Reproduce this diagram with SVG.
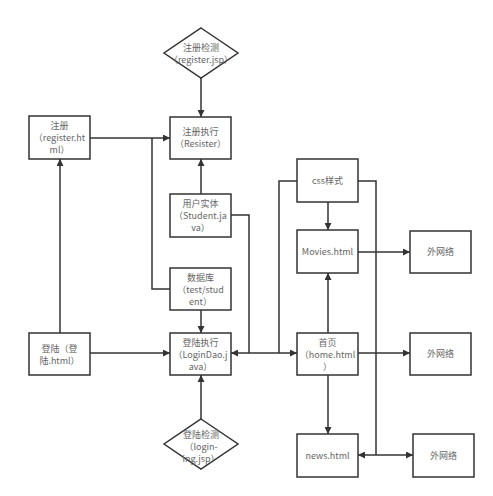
<svg xmlns="http://www.w3.org/2000/svg" width="493" height="496" viewBox="0 0 493 496">
<defs>
<marker id="ah" viewBox="0 0 10 10" refX="10" refY="5" markerWidth="7" markerHeight="7" markerUnits="userSpaceOnUse" orient="auto-start-reverse">
<path d="M0,0 L10,5 L0,10 z" fill="#333"/>
</marker>
<style>
.n{fill:#fff;stroke:#333;stroke-width:1.5}
.t{font-family:"Noto Sans CJK SC","Noto Sans",sans-serif;font-size:9px;fill:#666;text-anchor:middle}
.c{fill:none;stroke:#333;stroke-width:1.5}
.a{marker-end:url(#ah)}
.b{marker-start:url(#ah);marker-end:url(#ah)}
</style>
</defs>
<rect width="493" height="496" fill="#fff"/>
<g id="connectors">
<path class="c a" d="M201,78 V117"/>
<path class="c a" d="M90,138 H170"/>
<path class="c" d="M170,289 H152 V138"/>
<path class="c a" d="M201,194 V159"/>
<path class="c" d="M231,215 H249 V353"/>
<path class="c a" d="M201,310 V333"/>
<path class="c a" d="M60,333 V159"/>
<path class="c a" d="M90,353 H170"/>
<path class="c b" d="M231,353 H297"/>
<path class="c a" d="M201,419 V375"/>
<path class="c" d="M297,181 H279 V353"/>
<path class="c" d="M358,181 H376 V455"/>
<path class="c a" d="M376,455 H358"/>
<path class="c a" d="M376,455 H413"/>
<path class="c a" d="M328,202 V230"/>
<path class="c a" d="M328,333 V273"/>
<path class="c a" d="M358,252 H410"/>
<path class="c a" d="M358,353 H410"/>
<path class="c a" d="M328,375 V434"/>
</g>
<g id="reg_check"><path class="n" d="M201,28 L238,53 L201,78 L164,53 z"/><text class="t" x="201" y="51">注册检测</text><text class="t" x="201" y="63">（register.jsp）</text></g>
<g id="reg_exec"><rect class="n" x="170" y="117" width="61" height="42"/><text class="t" x="200.5" y="135">注册执行</text><text class="t" x="200.5" y="147">（Resister）</text></g>
<g id="reg_html"><rect class="n" x="29" y="116" width="61" height="43"/><text class="t" x="59.5" y="129">注册</text><text class="t" x="59.5" y="141">（register.ht</text><text class="t" x="59.5" y="153">ml）</text></g>
<g id="user"><rect class="n" x="170" y="194" width="61" height="43"/><text class="t" x="200.5" y="207">用户实体</text><text class="t" x="200.5" y="219">（Student.ja</text><text class="t" x="200.5" y="231">va）</text></g>
<g id="db"><rect class="n" x="170" y="268" width="61" height="42"/><text class="t" x="200.5" y="281">数据库</text><text class="t" x="200.5" y="293">（test/stud</text><text class="t" x="200.5" y="305">ent）</text></g>
<g id="login"><rect class="n" x="29" y="333" width="61" height="42"/><text class="t" x="59.5" y="352">登陆（登</text><text class="t" x="59.5" y="364">陆.html）</text></g>
<g id="login_exec"><rect class="n" x="170" y="333" width="61" height="42"/><text class="t" x="200.5" y="346">登陆执行</text><text class="t" x="200.5" y="358">（LoginDao.j</text><text class="t" x="200.5" y="370">ava）</text></g>
<g id="login_check"><path class="n" d="M201,419 L238,444 L201,469 L164,444 z"/><text class="t" x="201" y="438">登陆检测</text><text class="t" x="201" y="450">（login-</text><text class="t" x="201" y="462">ing.jsp）</text></g>
<g id="css"><rect class="n" x="297" y="159" width="61" height="43"/><text class="t" x="327.5" y="184">css样式</text></g>
<g id="movies"><rect class="n" x="297" y="230" width="61" height="43"/><text class="t" x="327.5" y="255">Movies.html</text></g>
<g id="home"><rect class="n" x="297" y="333" width="61" height="42"/><text class="t" x="327.5" y="346">首页</text><text class="t" x="327.5" y="358">（home.html</text><text class="t" x="327.5" y="370">）</text></g>
<g id="news"><rect class="n" x="297" y="434" width="61" height="43"/><text class="t" x="327.5" y="459">news.html</text></g>
<g id="ext1"><rect class="n" x="410" y="231" width="61" height="42"/><text class="t" x="440.5" y="255">外网络</text></g>
<g id="ext2"><rect class="n" x="410" y="333" width="61" height="42"/><text class="t" x="440.5" y="357">外网络</text></g>
<g id="ext3"><rect class="n" x="413" y="434" width="61" height="43"/><text class="t" x="443.5" y="459">外网络</text></g>
</svg>
